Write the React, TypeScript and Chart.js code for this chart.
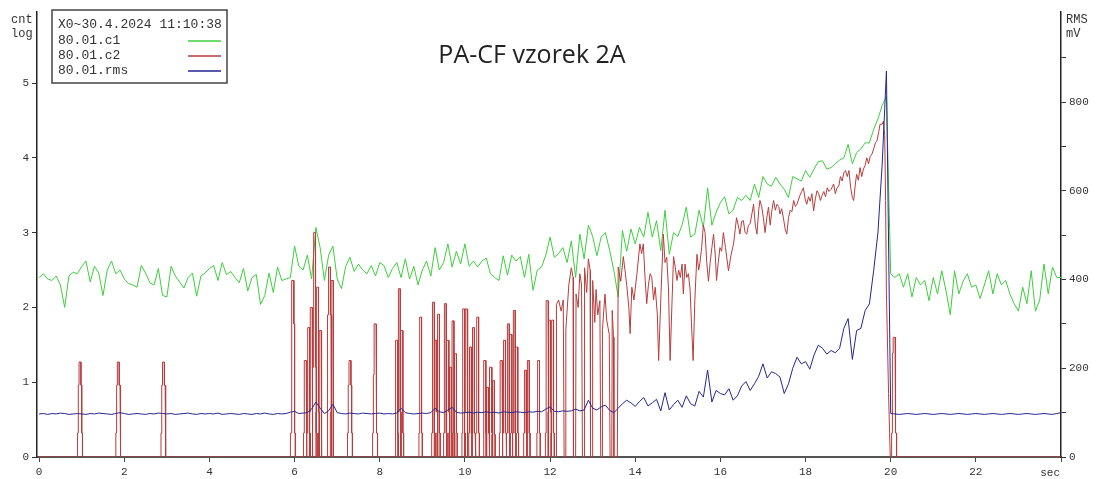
import React, { useEffect, useRef } from 'react';
import { Chart, registerables } from 'chart.js';

Chart.register(...registerables);

// ---------------- data ----------------
const TITLE = 'PA-CF vzorek 2A';
const LEGEND_HEADER = 'X0~30.4.2024 11:10:38';
const SERIES_NAMES = ['80.01.c1', '80.01.c2', '80.01.rms'];
const LEFT_UNIT = ['cnt', 'log'];
const RIGHT_UNIT = ['RMS', 'mV'];
const X_UNIT = 'sec';

const X_TICKS = [0, 2, 4, 6, 8, 10, 12, 14, 16, 18, 20, 22, 24];
const LEFT_TICKS = [0, 1, 2, 3, 4, 5];
const RIGHT_TICKS = [0, 100, 200, 300, 400, 500, 600, 700, 800, 900];
const RIGHT_LABELS = [0, 200, 400, 600, 800];

const T_STEP = 0.1; // seconds between samples of c1 and rms

// 80.01.c1 (log counts), t = 0 .. 24 s
const C1 = [
  2.40, 2.45, 2.38, 2.36, 2.42, 2.30, 2.00, 2.42, 2.47, 2.45,
  2.55, 2.62, 2.34, 2.55, 2.46, 2.16, 2.50, 2.62, 2.45, 2.50,
  2.38, 2.32, 2.30, 2.27, 2.56, 2.46, 2.33, 2.30, 2.52, 2.16,
  2.14, 2.55, 2.42, 2.34, 2.26, 2.40, 2.46, 2.15, 2.42, 2.46,
  2.52, 2.56, 2.36, 2.60, 2.44, 2.48, 2.40, 2.33, 2.52, 2.22,
  2.40, 2.44, 2.04, 2.16, 2.46, 2.20, 2.54, 2.36, 2.38, 2.40,
  2.82, 2.55, 2.50, 2.70, 2.38, 3.07, 2.80, 2.36, 2.70, 2.82,
  2.38, 2.25, 2.55, 2.67, 2.48, 2.58, 2.50, 2.45, 2.56, 2.42,
  2.60, 2.56, 2.40, 2.52, 2.60, 2.40, 2.65, 2.38, 2.55, 2.30,
  2.50, 2.62, 2.42, 2.80, 2.50, 2.60, 2.85, 2.54, 2.75, 2.58,
  2.85, 2.55, 2.62, 2.54, 2.62, 2.66, 2.45, 2.40, 2.36, 2.69,
  2.43, 2.70, 2.62, 2.68, 2.40, 2.71, 2.23, 2.50, 2.54, 2.70,
  2.94, 2.67, 2.72, 2.80, 2.60, 2.89, 2.40, 2.98, 2.65, 3.10,
  2.95, 2.69, 2.94, 3.00, 2.76, 2.49, 2.14, 3.03, 2.75, 3.05,
  2.85, 3.07, 2.94, 3.27, 2.94, 3.16, 2.76, 3.30, 2.71, 3.00,
  2.95, 3.10, 3.34, 2.94, 2.98, 3.30, 3.07, 3.60, 3.10, 3.27,
  3.40, 3.48, 3.25, 3.30, 3.47, 3.43, 3.50, 3.43, 3.65, 3.47,
  3.75, 3.65, 3.62, 3.74, 3.65, 3.58, 3.47, 3.75, 3.72, 3.69,
  3.83, 3.74, 3.85, 3.95, 3.96, 3.85, 3.87, 3.92, 3.97, 4.00,
  4.18, 3.92, 4.07, 4.12, 4.20, 4.20, 4.38, 4.52, 4.70, 4.82,
  2.45, 2.40, 2.45, 2.27, 2.45, 2.14, 2.40, 2.30, 2.36, 2.09,
  2.40, 2.18, 2.49, 2.22, 1.90, 2.49, 2.18, 2.35, 2.45, 2.27,
  2.30, 2.12, 2.30, 2.49, 2.18, 2.45, 2.30, 2.36, 2.18, 2.05,
  1.95, 2.27, 2.05, 2.49, 1.95, 2.10, 2.58, 2.18, 2.54, 2.40,
  2.40,
];

// 80.01.rms (mV), t = 0 .. 24 s
const RMS = [
  97, 98, 96, 98, 97, 99, 98, 96, 97, 98,
  97, 96, 98, 97, 99, 98, 97, 96, 98, 100,
  98, 96, 97, 98, 97, 96, 98, 97, 99, 98,
  97, 98, 96, 97, 98, 99, 97, 96, 98, 97,
  98, 97, 99, 96, 97, 98, 97, 96, 98, 97,
  96, 98, 97, 99, 97, 96, 98, 97, 98, 101,
  103, 98, 99, 100, 108, 124, 110, 98, 104, 119,
  100, 98, 97, 99, 98, 97, 99, 98, 97, 98,
  99, 97, 98, 97, 99, 110, 100, 98, 97, 98,
  99, 98, 100, 110, 102, 100, 106, 112, 101, 99,
  100, 101, 99, 101, 100, 102, 100, 101, 99, 102,
  101, 100, 102, 101, 100, 102, 101, 103, 102, 108,
  113, 103, 102, 104, 103, 104, 108, 104, 106, 128,
  110, 106, 113, 117, 105, 100, 110, 120, 128, 122,
  114, 125, 134, 115, 122, 130, 104, 145, 106, 118,
  128, 112, 138, 120, 115, 148, 135, 196, 124, 150,
  143, 140, 154, 128, 138, 160, 170, 150, 165, 182,
  210, 178, 192, 188, 180, 143, 165, 200, 225, 210,
  215, 198, 230, 252, 245, 232, 240, 235, 245, 290,
  312, 220, 285, 290, 330, 345, 420, 505, 660, 870,
  98, 97, 96, 97, 98, 97, 96, 97, 98, 97,
  96, 97, 98, 97, 96, 97, 98, 97, 96, 97,
  98, 97, 96, 97, 98, 97, 96, 97, 98, 97,
  96, 97, 98, 97, 96, 97, 98, 97, 96, 98,
  100,
];

// 80.01.c2 isolated pulses: [time s, step levels from bottom to top]
const C2_PULSES = [
  [0.96, 0.32, 0.96, 1.27],
  [1.86, 0.32, 0.96, 1.27],
  [2.92, 0.32, 0.96, 1.27],
  [5.96, 0.32, 1.78, 2.36],
  [6.25, 0.32, 1.29],
  [6.33, 0.32, 1.73],
  [6.39, 0.6, 2.0],
  [6.47, 0.32, 1.2, 3.0],
  [6.54, 0.6, 2.27],
  [6.6, 0.32, 1.69],
  [6.82, 0.32, 1.9, 2.54],
  [6.88, 0.6, 2.36],
  [7.3, 0.32, 0.96, 1.29],
  [7.89, 0.32, 1.1, 1.78],
  [8.4, 0.32, 1.56],
  [8.46, 0.6, 2.25],
  [8.52, 0.32, 1.69],
  [8.96, 0.32, 1.87],
  [9.26, 0.32, 2.07],
  [9.32, 0.6, 1.56],
  [9.38, 0.32, 1.91],
  [9.54, 0.32, 2.05],
  [9.6, 0.6, 1.56],
  [9.66, 0.32, 1.2],
  [9.72, 0.32, 1.82],
  [9.78, 0.32, 1.38],
  [9.97, 0.32, 1.98],
  [10.03, 0.6, 1.98],
  [10.13, 0.32, 1.47],
  [10.2, 0.32, 1.73],
  [10.3, 0.32, 1.87],
  [10.47, 0.32, 1.29],
  [10.53, 0.32, 0.93],
  [10.61, 0.32, 1.2],
  [10.67, 0.3, 1.02],
  [10.85, 0.32, 1.29],
  [10.93, 0.32, 1.56],
  [11.02, 0.32, 1.78],
  [11.08, 0.32, 1.64],
  [11.16, 0.32, 1.96],
  [11.22, 0.32, 1.47],
  [11.42, 0.32, 1.16],
  [11.49, 0.32, 1.29],
  [11.73, 0.32, 1.29],
  [11.93, 0.32, 2.09],
  [11.99, 0.6, 1.83],
  [12.06, 0.32, 1.83],
  [20.08, 0.32, 1.39, 1.6],
];

// 80.01.c2 continuous trace: [time s, log counts]
const C2_TRACE = [
  [12.15, 0], [12.15, 2.04], [12.2, 2.1], [12.26, 1.95], [12.31, 2.1], [12.33, 0], [12.36, 0],
  [12.37, 1.7], [12.44, 2.3], [12.5, 2.53], [12.54, 2.4], [12.55, 0], [12.6, 0],
  [12.61, 2.18], [12.66, 2.0], [12.7, 2.45], [12.74, 2.3], [12.76, 0], [12.8, 0],
  [12.81, 2.53], [12.86, 2.2], [12.9, 2.65], [12.94, 2.5], [12.95, 0], [12.99, 0],
  [13.0, 2.36], [13.05, 1.8], [13.08, 2.24], [13.12, 1.9], [13.17, 2.09], [13.19, 0], [13.22, 0],
  [13.23, 1.7], [13.29, 2.18], [13.33, 1.83], [13.39, 1.64], [13.41, 0], [13.45, 0],
  [13.46, 1.96], [13.49, 1.6], [13.5, 0], [13.58, 0],
  [13.6, 2.54], [13.66, 2.35], [13.72, 2.68], [13.77, 2.45], [13.8, 2.3], [13.85, 2.0],
  [13.88, 1.65], [13.92, 2.27], [13.97, 2.1], [14.04, 2.45], [14.11, 2.85], [14.15, 2.72],
  [14.19, 2.85], [14.23, 2.4], [14.27, 2.05], [14.31, 2.3], [14.35, 2.45], [14.39, 2.4],
  [14.43, 2.1], [14.47, 2.27], [14.52, 1.9], [14.55, 1.29], [14.6, 2.1], [14.66, 2.98],
  [14.7, 2.6], [14.74, 2.67], [14.78, 2.27], [14.82, 1.29], [14.86, 2.0], [14.9, 2.68],
  [14.94, 2.54], [14.98, 2.36], [15.02, 2.5], [15.06, 2.4], [15.1, 2.58], [15.13, 2.18],
  [15.17, 2.58], [15.21, 2.4], [15.25, 2.45], [15.29, 2.23], [15.32, 1.8], [15.36, 1.29],
  [15.4, 2.1], [15.45, 2.71], [15.49, 2.5], [15.52, 2.6], [15.56, 2.8], [15.6, 3.1],
  [15.64, 3.0], [15.68, 2.6], [15.72, 2.35], [15.76, 2.6], [15.8, 2.8], [15.84, 2.98],
  [15.88, 2.7], [15.91, 2.36], [15.95, 2.6], [15.99, 2.8], [16.03, 2.75], [16.07, 3.0],
  [16.12, 2.8], [16.19, 2.49], [16.25, 2.7], [16.31, 2.85], [16.35, 3.05], [16.38, 3.2],
  [16.42, 3.1], [16.46, 2.98], [16.5, 3.15], [16.54, 3.16], [16.58, 3.0], [16.62, 2.98],
  [16.66, 3.1], [16.7, 3.12], [16.74, 3.25], [16.78, 3.38], [16.82, 3.1], [16.86, 2.98],
  [16.9, 3.3], [16.93, 3.43], [16.97, 3.35], [17.01, 3.2], [17.05, 3.0], [17.09, 3.2],
  [17.13, 3.34], [17.17, 3.1], [17.21, 3.3], [17.25, 3.43], [17.29, 3.3], [17.33, 3.38],
  [17.37, 3.35], [17.4, 3.25], [17.44, 3.32], [17.48, 3.2], [17.52, 3.05], [17.56, 2.98],
  [17.6, 3.2], [17.64, 3.3], [17.68, 3.28], [17.72, 3.43], [17.76, 3.35], [17.8, 3.38],
  [17.84, 3.45], [17.87, 3.5], [17.91, 3.55], [17.95, 3.6], [17.99, 3.45], [18.03, 3.38],
  [18.07, 3.48], [18.11, 3.42], [18.15, 3.52], [18.19, 3.29], [18.23, 3.45], [18.27, 3.56],
  [18.31, 3.52], [18.35, 3.43], [18.39, 3.5], [18.43, 3.55], [18.47, 3.48], [18.51, 3.6],
  [18.55, 3.55], [18.6, 3.58], [18.66, 3.65], [18.7, 3.52], [18.74, 3.6], [18.78, 3.62],
  [18.82, 3.75], [18.86, 3.69], [18.9, 3.8], [18.94, 3.83], [18.98, 3.75], [19.02, 3.83],
  [19.06, 3.6], [19.1, 3.47], [19.13, 3.43], [19.17, 3.65], [19.2, 3.78], [19.24, 3.7],
  [19.28, 3.87], [19.32, 3.75], [19.36, 3.85], [19.4, 3.9], [19.44, 4.0], [19.48, 3.92],
  [19.52, 4.02], [19.56, 4.05], [19.6, 4.12], [19.64, 4.2], [19.68, 4.23], [19.72, 4.35],
  [19.75, 4.45], [19.8, 4.45], [19.83, 4.49], [19.86, 4.3], [19.88, 3.43], [19.9, 2.18],
  [19.95, 0.85], [19.99, 0],
];

// ---------------- styling ----------------
const GREEN = '#3ccf3c';
const RED = '#b83c3c';
const BLUE = '#25258f';
const MONO = '"Liberation Mono", "DejaVu Sans Mono", monospace';
const PULSE_TOP_HALF = 0.022;
const PULSE_STEP_HALF = 0.018;

function pulseVertices(p: number[]) {
  const [t, ...levels] = p;
  const n = levels.length;
  const hw = (i: number) => PULSE_TOP_HALF + (n - 1 - i) * PULSE_STEP_HALF;
  const pts: { x: number; y: number }[] = [{ x: t - hw(0), y: 0 }];
  for (let i = 0; i < n; i++) {
    if (i > 0) pts.push({ x: t - hw(i), y: levels[i - 1] });
    pts.push({ x: t - hw(i), y: levels[i] });
  }
  for (let i = n - 1; i >= 0; i--) {
    pts.push({ x: t + hw(i), y: levels[i] });
    pts.push({ x: t + hw(i), y: i > 0 ? levels[i - 1] : 0 });
  }
  return pts;
}

function buildC2() {
  const start = C2_TRACE[0][0];
  const end = C2_TRACE[C2_TRACE.length - 1][0];
  const pts: { x: number; y: number }[] = [{ x: -0.05, y: 0 }];
  C2_PULSES.filter((p) => p[0] < start).forEach((p) => pts.push(...pulseVertices(p)));
  C2_TRACE.forEach(([x, y]) => pts.push({ x, y }));
  C2_PULSES.filter((p) => p[0] > end).forEach((p) => pts.push(...pulseVertices(p)));
  pts.push({ x: 24, y: 0 });
  return pts;
}

const sampled = (arr: number[]) => arr.map((v, i) => ({ x: Math.round(i * T_STEP * 100) / 100, y: v }));

const overlay = {
  id: 'overlay',
  afterDraw(chart: any) {
    const ctx = chart.ctx as CanvasRenderingContext2D;
    ctx.save();
    // title
    ctx.fillStyle = '#222';
    ctx.font = '25px "Open Sans", "Noto Sans", sans-serif';
    ctx.textAlign = 'center';
    ctx.textBaseline = 'alphabetic';
    ctx.fillText(TITLE, 532, 63);
    // unit labels
    ctx.fillStyle = '#333';
    ctx.font = '12px ' + MONO;
    ctx.textAlign = 'left';
    ctx.textBaseline = 'middle';
    ctx.fillText(LEFT_UNIT[0], 11, 20);
    ctx.fillText(LEFT_UNIT[1], 11, 34);
    ctx.fillText(RIGHT_UNIT[0], 1066, 20);
    ctx.fillText(RIGHT_UNIT[1], 1066, 34);
    ctx.font = '11px ' + MONO;
    ctx.textAlign = 'right';
    ctx.fillText(X_UNIT, 1060, 473);
    // legend box
    ctx.fillStyle = '#fff';
    ctx.fillRect(52, 10, 175, 73);
    ctx.strokeStyle = '#444';
    ctx.lineWidth = 1.5;
    ctx.strokeRect(52, 10, 175, 73);
    ctx.fillStyle = '#333';
    ctx.font = '13px ' + MONO;
    ctx.textAlign = 'left';
    ctx.fillText(LEGEND_HEADER, 58, 25);
    const colors = [GREEN, RED, BLUE];
    SERIES_NAMES.forEach((name, i) => {
      const y = 41 + i * 15;
      ctx.fillStyle = '#333';
      ctx.fillText(name, 58, y);
      ctx.strokeStyle = colors[i];
      ctx.lineWidth = 1.5;
      ctx.beginPath();
      ctx.moveTo(188, y);
      ctx.lineTo(221, y);
      ctx.stroke();
    });
    ctx.restore();
  },
};

export default function App() {
  const ref = useRef<HTMLCanvasElement | null>(null);
  useEffect(() => {
    if (!ref.current) return;
    const tickFont = { family: MONO, size: 11 };
    const chart = new Chart(ref.current, {
      type: 'line',
      data: {
        datasets: [
          { label: SERIES_NAMES[2], data: sampled(RMS), borderColor: BLUE, yAxisID: 'y1', order: 0 },
          { label: SERIES_NAMES[1], data: buildC2(), borderColor: RED, yAxisID: 'y', order: 1 },
          { label: SERIES_NAMES[0], data: sampled(C1), borderColor: GREEN, yAxisID: 'y', order: 2 },
        ] as any,
      },
      options: {
        animation: false,
        responsive: false,
        maintainAspectRatio: false,
        devicePixelRatio: 1,
        layout: { padding: { top: 12, left: 0, right: 0, bottom: 0 } },
        elements: { point: { radius: 0 }, line: { borderWidth: 1, tension: 0 } },
        plugins: { legend: { display: false }, tooltip: { enabled: false }, title: { display: false } },
        scales: {
          x: {
            type: 'linear',
            min: -0.05,
            max: 24,
            position: 'bottom',
            afterFit: (s: any) => { s.height = 22; },
            afterBuildTicks: (s: any) => { s.ticks = X_TICKS.map((v) => ({ value: v })); },
            ticks: {
              autoSkip: false,
              maxRotation: 0,
              padding: 3,
              color: '#333',
              font: tickFont,
              callback: (v: any) => (v === 24 ? '' : String(v)),
            },
            grid: { drawOnChartArea: false, drawTicks: true, tickLength: 5, color: '#444' },
            border: { display: true, color: '#555', width: 2 },
          },
          y: {
            type: 'linear',
            position: 'left',
            min: 0,
            max: 5.95,
            afterFit: (s: any) => { s.width = 37; },
            afterBuildTicks: (s: any) => { s.ticks = LEFT_TICKS.map((v) => ({ value: v })); },
            ticks: { padding: 3, color: '#333', font: tickFont },
            grid: { drawOnChartArea: false, drawTicks: true, tickLength: 5, color: '#333' },
            border: { display: true, color: '#222', width: 1.5 },
          },
          y1: {
            type: 'linear',
            position: 'right',
            min: 0,
            max: 1003,
            afterFit: (s: any) => { s.width = 36; },
            afterBuildTicks: (s: any) => { s.ticks = RIGHT_TICKS.map((v) => ({ value: v })); },
            ticks: {
              padding: 3,
              color: '#333',
              font: tickFont,
              callback: (v: any) => (RIGHT_LABELS.includes(v) ? String(v) : ''),
            },
            grid: { drawOnChartArea: false, drawTicks: true, tickLength: 5, color: '#333' },
            border: { display: true, color: '#222', width: 1.5 },
          },
        },
      } as any,
      plugins: [overlay],
    });
    return () => chart.destroy();
  }, []);
  return (
    <div style={{ position: 'absolute', left: 0, top: 0, width: 1097, height: 479, background: '#fff' }}>
      <canvas ref={ref} width={1097} height={479} style={{ width: 1097, height: 479, display: 'block' }} />
    </div>
  );
}
